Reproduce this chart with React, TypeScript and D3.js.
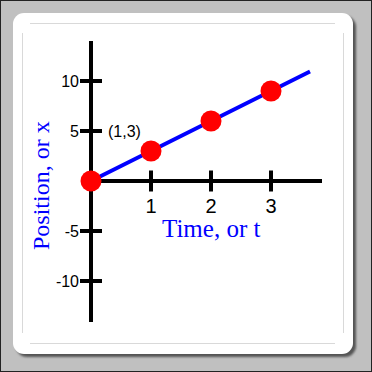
import React from "react";
import * as d3 from "d3";

const pointT = [0, 1, 2, 3];
const pointX = [0, 3, 6, 9];
const lineT = [0, 3.65];
const lineX = [0, 10.95];
const xTicks = [1, 2, 3];
const yTicks = [10, 5, -5, -10];
const annotation = "(1,3)";
const xTitle = "Time, or t";
const yTitle = "Position, or x";

export default function App() {
  const W = 372, H = 372;
  const x = d3.scaleLinear().domain([0, 1]).range([91, 151]);
  const y = d3.scaleLinear().domain([0, 10]).range([181, 81]);
  const line = d3.line<number>().x((_, i) => x(lineT[i])).y((d) => y(d));
  const xMin = 0, xMax = 3.85;
  const yMin = -14.1, yMax = 14;
  return (
    <svg width={W} height={H} style={{ position: "absolute", left: 0, top: 0 }}>
      <defs>
        <filter id="sh" x="-10%" y="-10%" width="120%" height="120%">
          <feGaussianBlur stdDeviation="1" />
        </filter>
      </defs>
      <rect x={0} y={0} width={W} height={H} fill="#c0c0c0" />
      <rect x={0.5} y={0.5} width={W - 1} height={H - 1} fill="none" stroke="#222" strokeWidth={1} />
      <rect x={16} y={16} width={340} height={341} rx={11} fill="#555" filter="url(#sh)" />
      <rect x={13} y={13} width={340} height={341} rx={11} fill="#fff" />
      <g stroke="#d9d9d9" strokeWidth={1}>
        <line x1={30} x2={335} y1={23.5} y2={23.5} />
        <line x1={30} x2={335} y1={343.5} y2={343.5} />
        <line x1={22.5} x2={22.5} y1={33} y2={333} />
        <line x1={343.5} x2={343.5} y1={33} y2={333} />
      </g>
      {/* axes */}
      <g stroke="#000" strokeWidth={4}>
        <line x1={x(0)} x2={x(0)} y1={y(yMax)} y2={y(yMin)} />
        <line x1={x(xMin)} x2={x(xMax)} y1={y(0)} y2={y(0)} />
        {yTicks.map((t) => (
          <line key={"yt" + t} x1={x(0) - 11} x2={x(0) + 11} y1={y(t)} y2={y(t)} />
        ))}
        {xTicks.map((t) => (
          <line key={"xt" + t} x1={x(t)} x2={x(t)} y1={y(0) - 10.5} y2={y(0) + 10.5} />
        ))}
      </g>
      <g fontFamily="'Liberation Sans', Arial, sans-serif" fill="#000">
        {yTicks.map((t) => (
          <text key={"yl" + t} x={x(0) - 12} y={y(t) + 6} fontSize={16} textAnchor="end">
            {t}
          </text>
        ))}
        {xTicks.map((t) => (
          <text key={"xl" + t} x={x(t)} y={213} fontSize={20} textAnchor="middle">
            {t}
          </text>
        ))}
        <text x={108} y={137} fontSize={16}>{annotation}</text>
      </g>
      <path d={line(lineX) || ""} stroke="#0000ff" strokeWidth={4} fill="none" />
      {pointT.map((t, i) => (
        <circle key={"p" + i} cx={x(t)} cy={y(pointX[i])} r={10.5} fill="#ff0000" />
      ))}
      <g fontFamily="'Liberation Serif', 'Times New Roman', serif" fill="#0000ff">
        <text x={162} y={237} fontSize={25}>{xTitle}</text>
        <text transform="translate(49,250) rotate(-90)" fontSize={24}>{yTitle}</text>
      </g>
    </svg>
  );
}
